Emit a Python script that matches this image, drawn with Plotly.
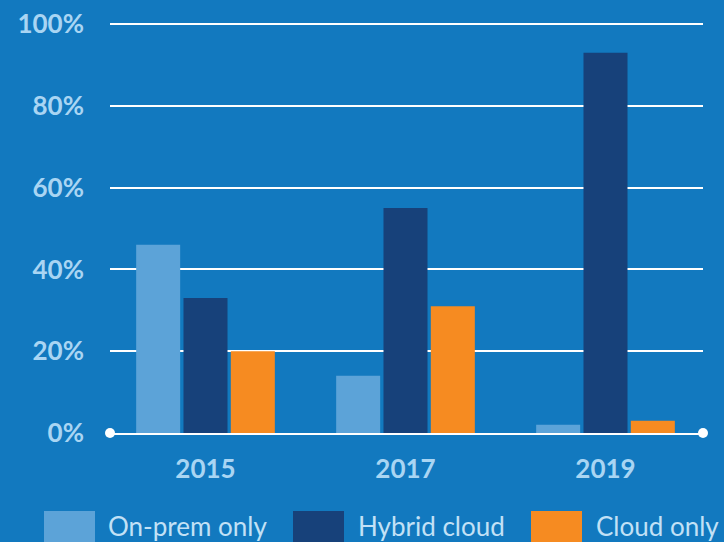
import plotly.graph_objects as go

years = ["2015", "2017", "2019"]
series_names = ["On-prem only", "Hybrid cloud", "Cloud only"]
on_prem = [46, 14, 2]
hybrid = [33, 55, 93]
cloud_only = [20, 31, 3]
y_ticks = [0, 20, 40, 60, 80, 100]
y_tick_labels = ["0%", "20%", "40%", "60%", "80%", "100%"]

BG = "#1279BF"
colors = ["#5CA3D8", "#17417A", "#F68B21"]
values = [on_prem, hybrid, cloud_only]

fig = go.Figure()
for name, vals, col in zip(series_names, values, colors):
    fig.add_trace(go.Bar(x=years, y=vals, name=name, marker=dict(color=col, line=dict(width=0)),
                         showlegend=False))

W, H = 724, 542
L, R, T, B = 110, 21, 23, 109
pw, ph = W - L - R, H - T - B
YMAX = 100.25

def px(x):
    return (x - L) / pw

def py(y):
    return (H - B - y) / ph

shapes = []
annotations = []
# axis end dots
for xp in [0, 1]:
    shapes.append(dict(type="circle", xref="paper", yref="paper", xsizemode="pixel", ysizemode="pixel",
                       xanchor=xp, yanchor=0, x0=-5, x1=5, y0=-5, y1=5,
                       fillcolor="white", line=dict(width=0), layer="above"))
# manual legend
sq_x = [44, 293, 531]
txt_x = [106, 356, 594]
for name, col, sx, tx in zip(series_names, colors, sq_x, txt_x):
    shapes.append(dict(type="rect", xref="paper", yref="paper", x0=px(sx), x1=px(sx + 51),
                       y0=py(511), y1=py(560), fillcolor=col, line=dict(width=0)))
    annotations.append(dict(xref="paper", yref="paper", x=px(tx), y=py(526), xanchor="left", yanchor="middle",
                            text=name, showarrow=False,
                            font=dict(family="Lato", size=26, color="#C2E1F6")))

fig.update_layout(
    width=W, height=H,
    margin=dict(l=L, r=R, t=T, b=B, pad=0, autoexpand=False),
    paper_bgcolor=BG, plot_bgcolor=BG,
    barmode="group", bargap=0.29, bargroupgap=0.07,
    shapes=shapes, annotations=annotations,
    xaxis=dict(range=[-0.4775, 2.4875], showgrid=False, showline=True, linecolor="white", linewidth=2,
               ticks="", ticklabelstandoff=12, automargin=False,
               tickfont=dict(family="Lato", size=26, color="#A9D5F3", weight="bold")),
    yaxis=dict(range=[0, YMAX], tickvals=y_ticks, ticktext=y_tick_labels, showgrid=True, gridcolor="white",
               gridwidth=2, zeroline=False, showline=False, ticks="", ticklabelstandoff=25, automargin=False,
               tickfont=dict(family="Lato", size=26, color="#A9D5F3", weight="bold")),
)

fig.write_html("out.html", config={"displayModeBar": False},
               post_script="document.body.style.margin='0';document.body.style.overflow='hidden';")
